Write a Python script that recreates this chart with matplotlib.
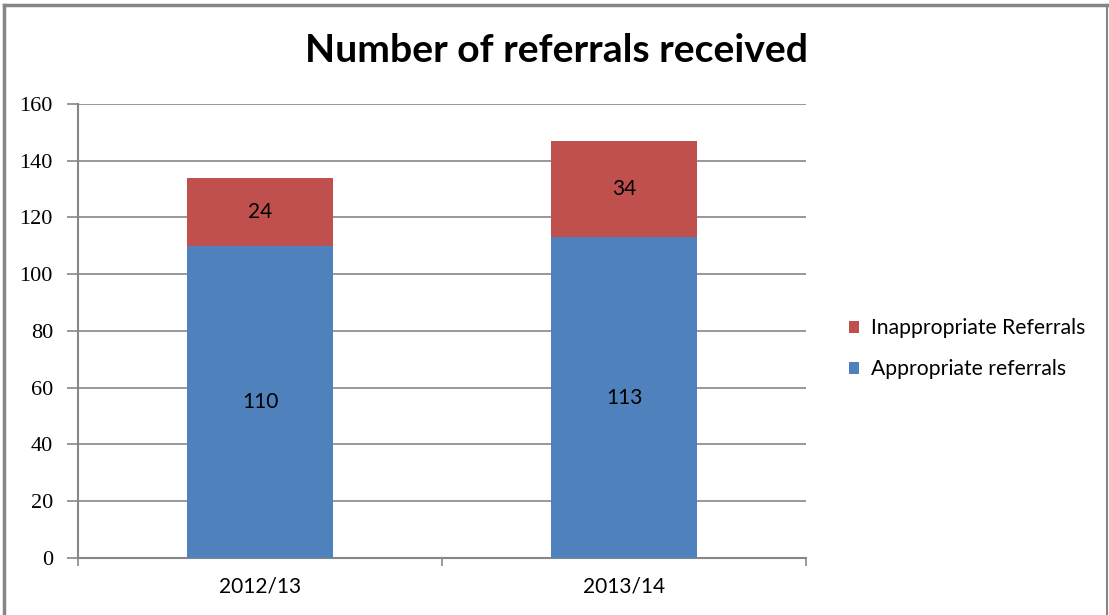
import matplotlib
matplotlib.use("Agg")
import matplotlib.pyplot as plt
from matplotlib.lines import Line2D
import numpy as np

categories = ["2012/13", "2013/14"]
appropriate = [110, 113]
inappropriate = [24, 34]
yticks = [0, 20, 40, 60, 80, 100, 120, 140, 160]

blue = "#4F81BD"
red = "#C0504D"
gray = "#868686"

plt.rcParams['font.family'] = ['Lato', 'DejaVu Sans']

fig = plt.figure(figsize=(11.09, 6.15), dpi=100)
ax = fig.add_axes([0.0703, 0.0927, 0.6565, 0.7382])

x = np.arange(len(categories))
ax.bar(x, appropriate, width=0.4, color=blue, label="Appropriate referrals", zorder=3)
ax.bar(x, inappropriate, width=0.4, bottom=appropriate, color=red,
       label="Inappropriate Referrals", zorder=3)

for xi, a, i in zip(x, appropriate, inappropriate):
    ax.text(xi, a / 2, str(a), ha="center", va="center", fontsize=15, color="black", zorder=4)
    ax.text(xi, a + i / 2, str(i), ha="center", va="center", fontsize=15, color="black", zorder=4)

ax.set_xlim(-0.5, 1.5)
ax.set_ylim(0, 160)
ax.set_yticks(yticks)
ax.set_yticklabels([str(v) for v in yticks], fontsize=16, family=['Liberation Serif', 'DejaVu Serif'])
ax.set_xticks(x)
ax.set_xticklabels(categories, fontsize=15)
ax.tick_params(axis='x', which='major', length=0, pad=13)
ax.set_xticks([-0.5, 0.5, 1.5], minor=True)
ax.tick_params(axis='x', which='minor', length=6, width=1.2, color=gray, direction='out')
ax.tick_params(axis='y', which='major', length=8, width=1.2, color=gray, direction='out', pad=10)

ax.yaxis.grid(True, color=gray, linewidth=1.2, zorder=0)
for s in ["top", "right"]:
    ax.spines[s].set_visible(False)
for s in ["left", "bottom"]:
    ax.spines[s].set_color(gray)
    ax.spines[s].set_linewidth(1.5)

handles, labels = ax.get_legend_handles_labels()
fig.legend(handles[::-1], labels[::-1], loc="center left",
           bbox_to_anchor=(0.748, 0.433), frameon=False, fontsize=15.2,
           handlelength=0.5, handleheight=0.5, handletextpad=0.55, labelspacing=1.0)

fig.text(0.502, 0.918, "Number of referrals received", ha="center", va="center",
         fontsize=28.2, fontweight="bold")

# outer frame
W, H = 1109, 615
def fx(px): return px / W
def fy(py): return 1 - py / H
fig.add_artist(Line2D([fx(4), fx(4)], [fy(5), fy(615)], color=gray, lw=2.5))
fig.add_artist(Line2D([fx(4), fx(1107)], [fy(5), fy(5)], color=gray, lw=2.5))
fig.add_artist(Line2D([fx(1107), fx(1107)], [fy(5), fy(615)], color=gray, lw=1.5))

fig.savefig("out.png", dpi=100)
